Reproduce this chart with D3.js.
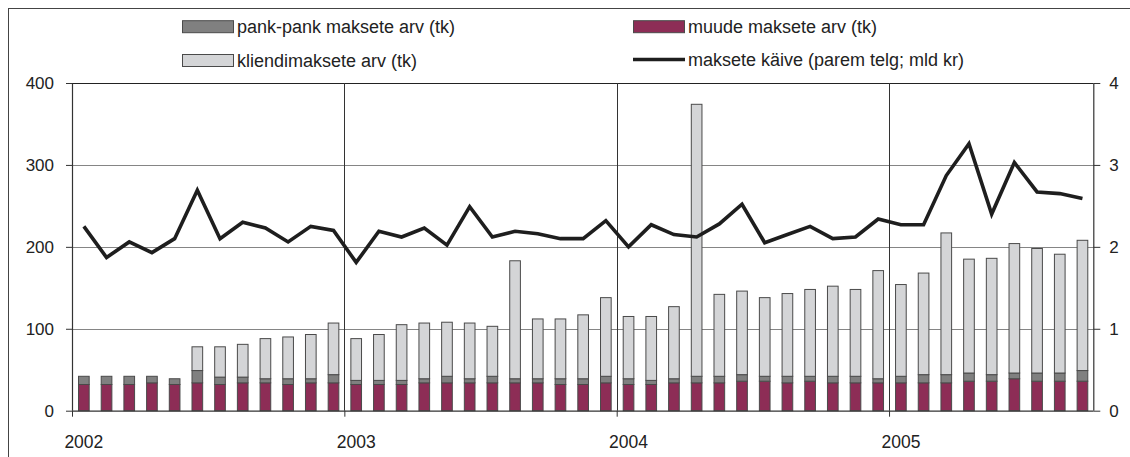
<!DOCTYPE html>
<html>
<head>
<meta charset="utf-8">
<script src="https://cdn.jsdelivr.net/npm/d3@7"></script>
<style>
  body { margin: 0; background: #fff; }
  svg { display: block; font-family: "Liberation Sans", Arial, sans-serif; }
</style>
</head>
<body>
<div id="chart"></div>
<script>
// monthly data, Jan 2002 .. Sep 2005
const years = ["2002", "2003", "2004", "2005"];
const muude = [32,32,32,34,32,34,32,34,34,32,34,34, 32,32,32,34,34,34,34,34,34,32,32,34,
  32,32,34,34,34,36,36,34,36,34,34,34, 34,34,34,36,36,39,36,36,36];
const pank = [10,10,10,8,7,15,9,7,5,7,5,10, 5,5,5,5,8,5,8,5,5,7,7,8,
  7,5,5,8,8,8,6,8,6,8,8,5, 8,10,10,10,8,7,10,10,13];
const kliendi = [0,0,0,0,0,29,37,40,49,51,54,63, 51,56,68,68,66,68,61,144,73,73,78,96,
  76,78,88,332,100,102,96,101,106,110,106,132, 112,124,173,139,142,158,152,145,159];
const kaive = [2.25,1.87,2.06,1.93,2.10,2.69,2.10,2.30,2.23,2.06,2.25,2.20,
  1.81,2.19,2.12,2.23,2.02,2.49,2.12,2.19,2.16,2.10,2.10,2.32,
  2.00,2.27,2.15,2.12,2.28,2.52,2.05,2.15,2.25,2.10,2.12,2.34,
  2.27,2.27,2.87,3.26,2.40,3.03,2.67,2.65,2.59];
const seriesNames = ["muude", "pank", "kliendi"];
const colors = { muude: "#8d2d56", pank: "#808080", kliendi: "#d4d5d7" };

const W = 1130, H = 457;
const margin = { top: 83, right: 36.7, bottom: 46.3, left: 72 };
const width = W - margin.left - margin.right;
const height = H - margin.top - margin.bottom;

const svg = d3.select("#chart").append("svg")
  .attr("width", W).attr("height", H);

// outer frame (top and left edges visible)
svg.append("rect")
  .attr("x", 8.5).attr("y", 8.5).attr("width", W + 20).attr("height", H + 20)
  .attr("fill", "none").attr("stroke", "#444").attr("stroke-width", 1);

const g = svg.append("g").attr("transform", "translate(" + margin.left + "," + margin.top + ")");

const months = d3.range(muude.length);
const xBand = d3.scaleBand().domain(months).range([0, width]).paddingInner(0.53).paddingOuter(0.265);
const xLin = d3.scaleLinear().domain([0, 45]).range([0, width]);
const yL = d3.scaleLinear().domain([0, 400]).range([height, 0]);
const yR = d3.scaleLinear().domain([0, 4]).range([height, 0]);

// horizontal grid
g.append("g").selectAll("line").data([100, 200, 300]).join("line")
  .attr("x1", 0).attr("x2", width)
  .attr("y1", d => Math.round(yL(d)) + 0.5).attr("y2", d => Math.round(yL(d)) + 0.5)
  .attr("stroke", "#858585").attr("stroke-width", 1.2);
g.append("line").attr("x1", 0).attr("x2", width).attr("y1", 0.5).attr("y2", 0.5)
  .attr("stroke", "#222").attr("stroke-width", 1.2);

// vertical year lines
g.append("g").selectAll("line").data([12, 24, 36]).join("line")
  .attr("x1", d => Math.round(xLin(d)) + 0.5).attr("x2", d => Math.round(xLin(d)) + 0.5)
  .attr("y1", 0).attr("y2", height)
  .attr("stroke", "#333").attr("stroke-width", 1);

// stacked bars
const table = months.map(i => ({ muude: muude[i], pank: pank[i], kliendi: kliendi[i] }));
const stack = d3.stack().keys(seriesNames)(table);
g.append("g").selectAll("g").data(stack).join("g")
  .attr("fill", d => colors[d.key])
  .selectAll("rect")
  .data(s => s.map((p, i) => ({ y0: p[0], y1: p[1], i: i })).filter(d => d.y1 - d.y0 > 0))
  .join("rect")
  .attr("x", d => xBand(d.i) + 0.5)
  .attr("width", xBand.bandwidth())
  .attr("y", d => yL(d.y1))
  .attr("height", d => yL(d.y0) - yL(d.y1))
  .attr("stroke", "#4a4a4a").attr("stroke-width", 1);

// line on right axis
g.append("path").datum(kaive)
  .attr("fill", "none").attr("stroke", "#1e1e1e").attr("stroke-width", 3.6)
  .attr("stroke-linejoin", "miter")
  .attr("d", d3.line().x((d, i) => xBand(i) + xBand.bandwidth() / 2 + 0.5).y(d => yR(d)));

// axes
const yAxisL = g.append("g").call(d3.axisLeft(yL).tickValues([0, 100, 200, 300, 400]).tickSize(6).tickPadding(12));
const yAxisR = g.append("g").attr("transform", "translate(" + width + ",0)")
  .call(d3.axisRight(yR).tickValues([0, 1, 2, 3, 4]).tickFormat(d3.format("d")).tickSize(7).tickPadding(9));
const xAxis = g.append("g").attr("transform", "translate(0," + height + ")")
  .call(d3.axisBottom(xLin).tickValues([0, 12, 24, 36]).tickFormat((d, i) => years[i]).tickSize(6).tickPadding(19));
xAxis.selectAll("text").attr("dx", xLin(1) / 2);

[yAxisL, yAxisR, xAxis].forEach(a => {
  a.select(".domain").attr("stroke", "#333").attr("stroke-width", 1.2);
  a.selectAll(".tick line").attr("stroke", "#333");
  a.selectAll("text").attr("font-size", 17).attr("fill", "#222")
    .attr("font-family", "'Liberation Sans', Arial, sans-serif");
});
xAxis.selectAll("text").attr("font-size", 17.5);
yAxisR.select(".domain").attr("d", "M0.5," + height + "V0.5");
yAxisL.select(".domain").attr("d", "M0.5," + height + "V0.5");
xAxis.select(".domain").attr("d", "M0,0.5H" + width);

// legend
const legend = [
  { label: "pank-pank maksete arv (tk)", key: "pank", x: 182, y: 26.7 },
  { label: "muude maksete arv (tk)", key: "muude", x: 633, y: 26.7 },
  { label: "kliendimaksete arv (tk)", key: "kliendi", x: 182, y: 60.5 },
  { label: "maksete käive (parem telg; mld kr)", key: "line", x: 633, y: 59.5 }
];
const lg = svg.append("g").selectAll("g").data(legend).join("g")
  .attr("transform", d => "translate(" + d.x + "," + d.y + ")");
lg.filter(d => d.key !== "line").append("rect")
  .attr("x", 0.5).attr("y", -6).attr("width", 51).attr("height", 12)
  .attr("fill", d => colors[d.key]).attr("stroke", "#4a4a4a").attr("stroke-width", 1);
lg.filter(d => d.key === "line").append("line")
  .attr("x1", 0).attr("x2", 52).attr("y1", 0).attr("y2", 0)
  .attr("stroke", "#1e1e1e").attr("stroke-width", 3.6);
lg.append("text").attr("x", 55).attr("y", 6.3)
  .attr("font-size", 18).attr("fill", "#222").text(d => d.label);
</script>
</body>
</html>
